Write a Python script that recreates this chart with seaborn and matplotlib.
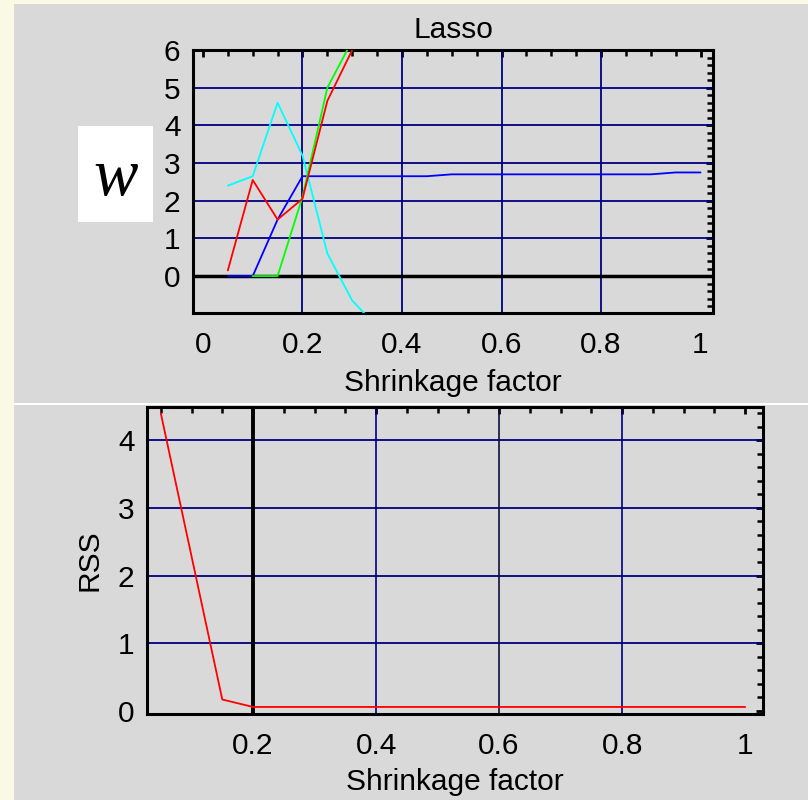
import numpy as np
import pandas as pd
import matplotlib
matplotlib.use("Agg")
import matplotlib.pyplot as plt
from matplotlib.patches import Rectangle
from matplotlib.ticker import MultipleLocator
import seaborn as sns

# ---- data ----
shrink = [0.05, 0.10, 0.15, 0.20, 0.25, 0.30]
w_red = [0.15, 2.55, 1.50, 2.05, 4.65, 6.00]
w_green_x = [0.10, 0.15, 0.20, 0.25, 0.29]
w_green = [0.0, 0.0, 2.10, 5.00, 6.00]
w_blue_x = [0.05, 0.10, 0.15, 0.20, 0.45, 0.50, 0.90, 0.95, 1.00]
w_blue = [0.0, 0.0, 1.50, 2.65, 2.65, 2.70, 2.70, 2.75, 2.75]
w_cyan_x = [0.05, 0.10, 0.15, 0.20, 0.25, 0.30, 0.325]
w_cyan = [2.40, 2.65, 4.60, 3.20, 0.60, -0.65, -1.00]

rss_x = [0.05, 0.15, 0.20, 0.40, 0.60, 0.80, 1.00]
rss = [4.40, 0.17, 0.06, 0.06, 0.06, 0.06, 0.06]

top_xticks = [0, 0.2, 0.4, 0.6, 0.8, 1]
top_xlabels = ["0", "0.2", "0.4", "0.6", "0.8", "1"]
top_yticks = [0, 1, 2, 3, 4, 5, 6]
bot_xticks = [0.2, 0.4, 0.6, 0.8, 1]
bot_xlabels = ["0.2", "0.4", "0.6", "0.8", "1"]
bot_yticks = [0, 1, 2, 3, 4]

sns.set_theme(style="white")
plt.rcParams["font.family"] = ["Liberation Sans", "DejaVu Sans"]
plt.rcParams["text.color"] = "black"
plt.rcParams["axes.labelcolor"] = "black"
plt.rcParams["xtick.color"] = "black"
plt.rcParams["ytick.color"] = "black"

fig = plt.figure(figsize=(8.08, 8.00), dpi=100)
fig.patch.set_facecolor("#F9F9E6")
# grey panels
fig.patches.append(Rectangle((14/808, 1-403/800), 1, 399/800, transform=fig.transFigure,
                             facecolor="#D9D9D9", edgecolor="none", zorder=-10))
fig.patches.append(Rectangle((14/808, 0), 1, 1-405/800, transform=fig.transFigure,
                             facecolor="#D9D9D9", edgecolor="none", zorder=-10))
fig.patches.append(Rectangle((14/808, 1-405/800), 1, 2/800, transform=fig.transFigure,
                             facecolor="white", edgecolor="none", zorder=-10))

navy = "#000080"
fs = 21.5

def style(ax):
    ax.set_facecolor("#D9D9D9")
    for s in ax.spines.values():
        s.set_color("black")
        s.set_linewidth(2.2)
    ax.tick_params(which="both", direction="in", top=True, right=True, colors="black",
                   labelsize=fs)
    ax.tick_params(axis="x", which="both", pad=13)
    ax.tick_params(axis="y", which="both", pad=9)
    ax.tick_params(which="major", length=5, width=2)
    ax.tick_params(which="minor", length=4, width=1.8)

# ---- top axes ----
ax1 = fig.add_axes([193/808, 1-313/800, 520/808, 263/800])
style(ax1)
for yv in [1, 2, 3, 4, 5]:
    ax1.axhline(yv, color=navy, lw=1.3, zorder=1)
for xv in [0.2, 0.4, 0.6, 0.8]:
    ax1.axvline(xv, color=navy, lw=1.3, zorder=1)
ax1.axhline(0, color="black", lw=2.5, zorder=1)

df_r = pd.DataFrame({"x": shrink, "y": w_red})
df_g = pd.DataFrame({"x": w_green_x, "y": w_green})
df_b = pd.DataFrame({"x": w_blue_x, "y": w_blue})
df_c = pd.DataFrame({"x": w_cyan_x, "y": w_cyan})
for d, c in [(df_c, "#00FFFF"), (df_b, "#0000FF"), (df_g, "#00FF00"), (df_r, "#FF0000")]:
    sns.lineplot(data=d, x="x", y="y", ax=ax1, color=c, lw=1.3, zorder=3, sort=False)
ax1.set_xlim(-0.02, 1.025)
ax1.set_ylim(-0.98, 6.0)
ax1.set_xticks(top_xticks)
ax1.set_xticklabels(top_xlabels)
ax1.set_yticks(top_yticks)
ax1.xaxis.set_minor_locator(MultipleLocator(0.05))
ax1.yaxis.set_minor_locator(MultipleLocator(0.2))
ax1.set_xlabel("Shrinkage factor", fontsize=fs, labelpad=7)
ax1.set_ylabel("")
ax1.set_title("Lasso", fontsize=fs, pad=9)

fig.patches.append(Rectangle((78/808, 1-222/800), 75/808, 96/800, transform=fig.transFigure,
                             facecolor="white", edgecolor="none", zorder=1))
fig.text(116/808, 1-178/800, "w", fontsize=48, style="italic", color="black",
         family=["Liberation Serif", "DejaVu Serif"], ha="center", va="center", zorder=2)

# ---- bottom axes ----
ax2 = fig.add_axes([147/808, 1-714/800, 616/808, 307/800])
style(ax2)
for yv in [1, 2, 3, 4]:
    ax2.axhline(yv, color=navy, lw=1.3, zorder=1)
for xv, c in [(0.4, navy), (0.6, "#10103a"), (0.8, navy)]:
    ax2.axvline(xv, color=c, lw=1.2, zorder=1)
ax2.axvline(0.2, color="black", lw=2.8, zorder=2)
df_rss = pd.DataFrame({"x": rss_x, "y": rss})
sns.lineplot(data=df_rss, x="x", y="y", ax=ax2, color="#FF0000", lw=1.3, zorder=3)
ax2.set_xlim(0.0276, 1.029)
ax2.set_ylim(-0.044, 4.49)
ax2.set_xticks(bot_xticks)
ax2.set_xticklabels(bot_xlabels)
ax2.set_yticks(bot_yticks)
ax2.xaxis.set_minor_locator(MultipleLocator(0.05))
ax2.yaxis.set_minor_locator(MultipleLocator(0.2))
ax2.set_xlabel("Shrinkage factor", fontsize=fs, labelpad=6)
ax2.set_ylabel("RSS", fontsize=fs, labelpad=10)

fig.savefig("out.png", dpi=100, facecolor=fig.get_facecolor())
